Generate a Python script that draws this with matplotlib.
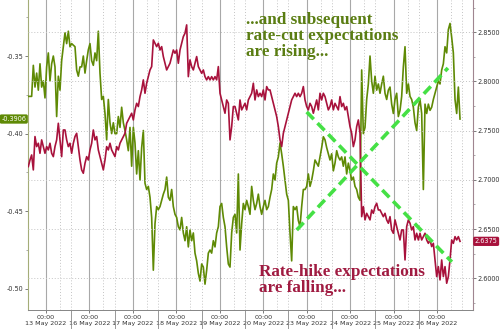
import matplotlib
matplotlib.use("Agg")
import matplotlib.pyplot as plt
import matplotlib.transforms as mtransforms
import numpy as np

# ---------------- data ----------------
day_labels = ["13 May 2022", "16 May 2022", "17 May 2022", "18 May 2022", "19 May 2022",
              "20 May 2022", "23 May 2022", "24 May 2022", "25 May 2022", "26 May 2022"]
start_day = -0.4066          # first sample, in trading days from 13 May 00:00
samples_per_day = 26.07

# rate-cut expectations (left axis, green)
rate_cut = [
    -0.376, -0.376, -0.376, -0.356, -0.370, -0.361, -0.372, -0.355, -0.370, -0.366,
    -0.377, -0.357, -0.348, -0.366, -0.355, -0.350, -0.357, -0.389, -0.363, -0.372,
    -0.353, -0.344, -0.335, -0.342, -0.334, -0.344, -0.342, -0.343, -0.344, -0.359,
    -0.363, -0.357, -0.357, -0.350, -0.361, -0.353, -0.346, -0.342, -0.353, -0.356,
    -0.348, -0.353, -0.334, -0.361, -0.378, -0.376, -0.387, -0.404, -0.378, -0.393,
    -0.400, -0.393, -0.400, -0.400, -0.389, -0.396, -0.383, -0.393, -0.398, -0.404,
    -0.411,
    -0.396, -0.421, -0.396, -0.406, -0.426, -0.411, -0.430, -0.409, -0.398, -0.432,
    -0.436, -0.434, -0.441, -0.454, -0.488, -0.458, -0.447, -0.449, -0.447, -0.443,
    -0.439, -0.436, -0.428, -0.441, -0.443, -0.436, -0.447, -0.452, -0.454, -0.460,
    -0.462, -0.454, -0.464, -0.469, -0.460, -0.473, -0.462, -0.469, -0.464, -0.477,
    -0.482, -0.490, -0.495, -0.484, -0.486, -0.497, -0.488, -0.477, -0.475, -0.477,
    -0.469, -0.473, -0.464, -0.460, -0.447, -0.445, -0.454, -0.460, -0.473, -0.484,
    -0.486, -0.464, -0.454,
    -0.452, -0.464, -0.426, -0.475, -0.458, -0.445, -0.449, -0.443, -0.447, -0.452,
    -0.434, -0.443, -0.449, -0.445, -0.439, -0.447, -0.452, -0.447, -0.443, -0.449,
    -0.447, -0.441, -0.436, -0.426, -0.430, -0.419, -0.415, -0.406, -0.413, -0.421,
    -0.430, -0.439, -0.443, -0.464, -0.482, -0.447, -0.449, -0.447, -0.456, -0.460,
    -0.447, -0.436, -0.436, -0.434, -0.426, -0.434, -0.430, -0.424, -0.417, -0.419,
    -0.421, -0.415, -0.409, -0.402, -0.404, -0.409, -0.413, -0.417, -0.413, -0.424,
    -0.419, -0.411, -0.415,
    -0.417, -0.415, -0.421, -0.415, -0.426, -0.419, -0.424, -0.430, -0.428, -0.434,
    -0.436, -0.441, -0.443,
    -0.359, -0.400, -0.396, -0.378, -0.368, -0.350, -0.366, -0.374, -0.363, -0.372,
    -0.368, -0.374, -0.368, -0.363, -0.374, -0.378, -0.372, -0.370, -0.381, -0.387,
    -0.378, -0.374, -0.389, -0.385, -0.376,
    -0.357, -0.344, -0.374, -0.368, -0.376, -0.378, -0.383, -0.393, -0.398, -0.383,
    -0.378, -0.387,
    -0.436, -0.381, -0.387, -0.381, -0.385, -0.383, -0.378, -0.374, -0.370, -0.366,
    -0.368, -0.359, -0.355, -0.344, -0.348, -0.333, -0.329, -0.338, -0.348, -0.378,
    -0.387, -0.370, -0.3906,
]

# rate-hike expectations (right axis, red)
rate_hike = [
    2.7135, 2.7202, 2.7253, 2.7101, 2.7440, 2.7338, 2.7372, 2.7270, 2.7406, 2.7338,
    2.7270, 2.7338, 2.7304, 2.7372, 2.7270, 2.7236, 2.7338, 2.7406, 2.7575, 2.7406,
    2.7236, 2.7507, 2.7507, 2.7406, 2.7338, 2.7372, 2.7270, 2.7372, 2.7440, 2.7473,
    2.7338, 2.7202, 2.7101, 2.7067, 2.7168, 2.7236, 2.7202, 2.7304, 2.7372, 2.7507,
    2.7406, 2.7440, 2.7304, 2.7236, 2.7168, 2.7101, 2.7202, 2.7338, 2.7304, 2.7372,
    2.7304, 2.7270, 2.7236, 2.7338, 2.7304, 2.7372, 2.7406, 2.7440, 2.7473, 2.7575,
    2.7609,
    2.7643, 2.7677, 2.7609, 2.7711, 2.7778, 2.7745, 2.7846, 2.7914, 2.8016, 2.7880,
    2.7982, 2.8049, 2.8117, 2.8151, 2.8422, 2.8388, 2.8354, 2.8388, 2.8320, 2.8354,
    2.8253, 2.8185, 2.8117, 2.8151, 2.8185, 2.8253, 2.8320, 2.8287, 2.8320, 2.8185,
    2.8320, 2.8388, 2.8456, 2.8490, 2.8575, 2.8049, 2.8219, 2.8151, 2.8117, 2.8185,
    2.8253, 2.8151, 2.8117, 2.8083, 2.8117, 2.8049, 2.8016, 2.8049, 2.8016, 2.8049,
    2.8016, 2.8049, 2.8016, 2.8151, 2.7880, 2.7812, 2.7745, 2.7677, 2.7812, 2.7778,
    2.7406, 2.7541, 2.7745,
    2.7745, 2.7677, 2.7609, 2.7812, 2.7711, 2.7745, 2.7778, 2.7711, 2.7812, 2.7846,
    2.7880, 2.7982, 2.7812, 2.7914, 2.7846, 2.7880, 2.7846, 2.7914, 2.7812, 2.7948,
    2.7914, 2.7914, 2.7846, 2.7778, 2.7711, 2.7643, 2.7541, 2.7406, 2.7338, 2.7473,
    2.7541, 2.7609, 2.7677, 2.7745, 2.7812, 2.7846, 2.7880, 2.7846, 2.7880, 2.7846,
    2.7880, 2.7948, 2.7812, 2.7745, 2.7711, 2.7778, 2.7745, 2.7677, 2.7745, 2.7812,
    2.7711, 2.7880, 2.7812, 2.7880, 2.7846, 2.7778, 2.7711, 2.7745, 2.7812, 2.7711,
    2.7778, 2.7745, 2.7711,
    2.7846, 2.7745, 2.7778, 2.7711, 2.7745, 2.7643, 2.7541, 2.7473, 2.7338, 2.7406,
    2.7541, 2.7609, 2.7473,
    2.6626, 2.6728, 2.6593, 2.6660, 2.6626, 2.6593, 2.6694, 2.6660, 2.6728, 2.6762,
    2.6694, 2.6694, 2.6660, 2.6626, 2.6660, 2.6593, 2.6559, 2.6626, 2.6491, 2.6457,
    2.6593, 2.6525, 2.6457, 2.6389, 2.6491, 2.6491, 2.6186, 2.6525, 2.6593, 2.6559,
    2.6491, 2.6525, 2.6389, 2.6457, 2.6389, 2.6457, 2.6389, 2.6423, 2.6457, 2.6389,
    2.6355, 2.6389, 2.6322, 2.6355, 2.6186, 2.6017, 2.6118, 2.5983, 2.6186, 2.6017,
    2.6118, 2.5949, 2.6017, 2.6186, 2.6389, 2.6355, 2.6423, 2.6389, 2.6423, 2.6375,
]

last_cut_label = "-0.3906"
last_hike_label = "2.6375"

# trend annotations (day, value on right axis)
hike_trend_days = [6.00, 9.34]
hike_trend_vals = [2.769, 2.6166]
cut_trend_days = [5.77, 9.25]
cut_trend_vals = [2.649, 2.8137]

# ---------------- style ----------------
GREEN = "#5f8a05"
RED = "#a8123c"
LIME = "#45e045"
GRID = "#c4c4c4"
TXT = "#333333"

fig = plt.figure(figsize=(5, 3.29), dpi=100)
ax = fig.add_axes([0.056, 0.058, 0.89, 0.942])
ax2 = ax.twinx()

x_cut = start_day + np.arange(len(rate_cut)) / samples_per_day
x_hike = start_day + np.arange(len(rate_hike)) / samples_per_day

# vertical grid
for k in range(len(day_labels)):
    ax.axvline(k, color="#a8a8a8", lw=0.8, zorder=0)
    ax.axvline(k + 0.32, color=GRID, lw=0.7, ls=(0, (1, 2)), zorder=0)
    ax.axvline(k + 0.58, color=GRID, lw=0.7, ls=(0, (1, 2)), zorder=0)

ax.plot(x_cut, rate_cut, color=GREEN, lw=1.2, zorder=3)
ax2.plot(x_hike, rate_hike, color=RED, lw=1.2, zorder=3)

# horizontal grid from right axis
ax2.set_yticks([2.60, 2.65, 2.70, 2.75, 2.80, 2.85])
ax2.set_yticklabels(["2.6000", "2.6500", "2.7000", "2.7500", "2.8000", "2.8500"])
ax2.set_yticks([2.575, 2.625, 2.675, 2.725, 2.775, 2.825, 2.875], minor=True)
ax2.grid(axis="y", which="major", color=GRID, lw=0.7, ls=(0, (1, 2)))
ax2.set_axisbelow(True)

ax.set_yticks([-0.50, -0.45, -0.40, -0.35])
ax.set_yticklabels(["-0.50", "-0.45", "-0.40", "-0.35"])
ax.set_yticks([-0.475, -0.425, -0.375, -0.325], minor=True)

ax.set_xticks(range(len(day_labels)))
ax.set_xticklabels(["00:00\n" + d for d in day_labels], linespacing=1.05)
ax.set_xticks([k + 0.58 for k in range(len(day_labels) - 1)], minor=True)

# limits set after the ticks so they are not widened
ax.set_xlim(-0.414, 9.827)
ax.set_ylim(-0.5136, -0.3139)
ax2.set_ylim(2.5678, 2.8828)

ax.tick_params(axis="x", which="major", length=2.5, width=0.6, color="#666666",
               labelsize=4.6, labelcolor=TXT, pad=1.5)
ax.tick_params(axis="x", which="minor", length=16, width=0.6, color="#888888")
ax.tick_params(axis="y", which="major", length=2.5, width=0.6, color="#666666",
               labelsize=4.7, labelcolor=TXT, pad=1)
ax.tick_params(axis="y", which="minor", length=1.5, width=0.5, color="#888888")
ax2.tick_params(axis="y", which="major", length=2.5, width=0.6, color="#666666",
                labelsize=4.7, labelcolor=TXT, pad=1)
ax2.tick_params(axis="y", which="minor", length=1.5, width=0.5, color="#888888")

for a in (ax, ax2):
    a.spines["top"].set_visible(False)
    a.spines["bottom"].set_color("#888888")
    a.spines["bottom"].set_linewidth(0.7)
ax.spines["left"].set_color("#a4ad78")
ax2.spines["left"].set_visible(False)
ax2.spines["right"].set_color("#a08590")
ax.spines["right"].set_visible(False)

# trend dashes
ax2.plot(hike_trend_days, hike_trend_vals, color=LIME, lw=2.6,
         dashes=(2.8, 1.5), solid_capstyle="butt", zorder=5)
ax2.plot(cut_trend_days, cut_trend_vals, color=LIME, lw=2.6,
         dashes=(2.8, 1.5), solid_capstyle="butt", zorder=5)

# last value tags
tl = mtransforms.blended_transform_factory(ax.transAxes, ax.transData)
ax.text(-0.004, rate_cut[-1], last_cut_label, transform=tl, ha="right", va="center",
        fontsize=4.7, color="white",
        bbox=dict(boxstyle="round,pad=0.25", fc=GREEN, ec="none"), clip_on=False)
tr = mtransforms.blended_transform_factory(ax2.transAxes, ax2.transData)
ax2.text(1.004, rate_hike[-1], last_hike_label, transform=tr, ha="left", va="center",
         fontsize=4.7, color="white",
         bbox=dict(boxstyle="round,pad=0.25", fc=RED, ec="none"), clip_on=False)

# annotations
serif = ["Liberation Serif", "DejaVu Serif"]
ax2.text(0.49, 0.962, "...and subsequent\nrate-cut expectations\nare rising...",
         transform=ax2.transAxes, ha="left", va="top", fontsize=12.3,
         fontweight="bold", color="#5a7d12", family=serif, linespacing=1.02, zorder=6)
ax2.text(0.518, 0.045, "Rate-hike expectations\nare falling...",
         transform=ax2.transAxes, ha="left", va="bottom", fontsize=12.3,
         fontweight="bold", color="#a01b41", family=serif, linespacing=1.02, zorder=6)

fig.savefig("out.png", dpi=100)
